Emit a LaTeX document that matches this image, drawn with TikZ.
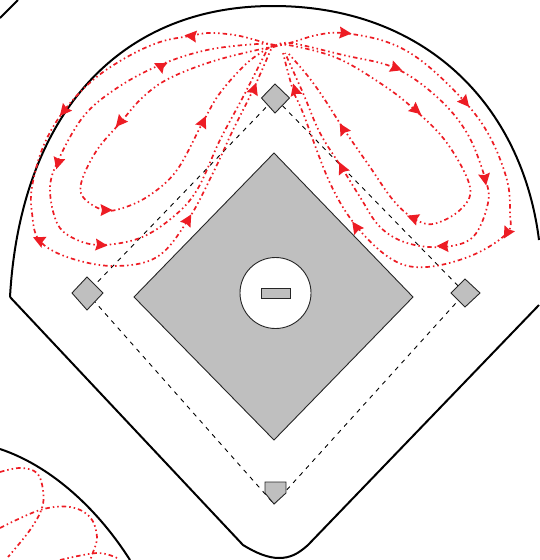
\documentclass[tikz,border=0pt]{standalone}
\definecolor{flowred}{RGB}{237,28,36}
\definecolor{infield}{RGB}{191,191,191}
\tikzset{
 x=1pt,y=-1pt,
 fieldline/.style={draw=black,line width=2pt,line join=round},
 thinshape/.style={draw=black!85,line width=0.9pt,fill=infield,line join=miter},
 basepath/.style={draw=black,line width=0.9pt,dash pattern=on 4.5pt off 5pt},
 flowline/.style={draw=flowred,line width=1.7pt,dash pattern=on 4.5pt off 3pt on 1.5pt off 3pt on 1.5pt off 3pt},
}
\newcommand{\flowtip}[3]{\fill[flowred,shift={(#1,#2)},rotate=-#3] (6.5pt,0pt)--(-5.5pt,6pt)--(-4pt,0pt)--(-5.5pt,-6pt)--cycle;}
\begin{document}
\begin{tikzpicture}
\useasboundingbox (0,0) rectangle (539,560);
% field boundaries
\draw[fieldline] (10,297) .. controls (20,120) and (115,6) .. (273,6) .. controls (425,6) and (522,105) .. (539,240);
\draw[fieldline] (10,297) -- (243,545) .. controls (256,553) and (268,558) .. (279,558) .. controls (290,558) and (298,554) .. (308,545) -- (539,305);
\draw[fieldline] (0,18) -- (18,0);
\draw[fieldline] (0,449) .. controls (48,465) and (95,505) .. (130,560);
% infield
\draw[thinshape] (274,153) -- (413,297) -- (274,440) -- (134,297) -- cycle;
\draw[draw=black!85,line width=0.9pt,fill=white] (275.5,293) circle (35.5);
\draw[thinshape] (261,288) rectangle (290,298);
% base paths
\coordinate (second) at (275,98);
\coordinate (first) at (465,293);
\coordinate (third) at (87,293);
\coordinate (home) at (274,504);
\draw[basepath] (home) -- (first) -- (second) -- (third) -- (home);
% bases
\draw[thinshape] (275,84) -- (289.5,98) -- (275,113) -- (261.5,98) -- cycle;
\draw[thinshape] (465,279) -- (480,293) -- (465,307) -- (451,293) -- cycle;
\draw[thinshape] (87,277) -- (103,293) -- (87,310) -- (72,293) -- cycle;
\draw[thinshape] (265,482) -- (286,482) -- (286,493) -- (274,504) -- (265,493) -- cycle;
% flow lines, left
\draw[flowline] plot[smooth,tension=0.6] coordinates {(275,46) (240,36) (210,33) (190,36) (160,42) (127,57) (93,80) (63,112) (43,147) (32,187) (32,213) (39,240) (67,257) (113,266) (157,257) (188,220) (213,173) (233,130) (253,90) (272,47)};
\draw[flowline] plot[smooth,tension=0.6] coordinates {(275,45) (257,44) (207,50) (160,65) (117,88) (83,117) (57,163) (50,190) (57,223) (73,238) (100,245) (140,238) (173,217) (197,190) (220,140) (243,97) (268,48)};
\draw[flowline] plot[smooth,tension=0.6] coordinates {(275,46) (217,60) (170,78) (143,97) (120,123) (97,150) (82,180) (83,197) (103,210) (123,208) (150,195) (177,170) (203,122) (220,93) (247,63) (270,47)};
% flow lines, right
\draw[flowline] plot[smooth,tension=0.6] coordinates {(273,47) (293,42) (317,35) (343,33) (387,42) (423,62) (465,102) (490,137) (507,180) (510,213) (507,233) (473,255) (427,267) (393,260) (357,227) (330,183) (303,113) (293,90) (283,53)};
\draw[flowline] plot[smooth,tension=0.6] coordinates {(273,47) (290,43) (343,55) (395,68) (437,97) (467,133) (485,178) (488,203) (473,237) (443,247) (407,243) (380,227) (360,197) (342,168) (320,133) (303,93) (285,53)};
\draw[flowline] plot[smooth,tension=0.6] coordinates {(273,47) (288,45) (337,58) (383,85) (415,110) (447,143) (470,187) (460,210) (433,224) (413,218) (393,200) (370,167) (343,128) (323,97) (307,75) (288,53)};
% flow lines, lower left
\draw[flowline] plot[smooth,tension=0.6] coordinates {(0,472) (20,468) (37,473) (43,490) (42,508) (30,530) (8,557)};
\draw[flowline] plot[smooth,tension=0.6] coordinates {(0,528) (40,510) (70,507) (90,517) (97,537) (92,555) (90,560)};
\draw[flowline] plot[smooth,tension=0.6] coordinates {(60,560) (97,553) (117,558)};
% arrow heads
\flowtip{191}{36}{186}
\flowtip{160}{66}{205}
\flowtip{120}{122}{130}
\flowtip{64}{111}{130}
\flowtip{58}{163}{105}
\flowtip{39}{240}{205}
\flowtip{106}{210}{0}
\flowtip{101}{245}{5}
\flowtip{188}{220}{-60}
\flowtip{203}{122}{-65}
\flowtip{254}{89}{-70}
\flowtip{345}{33}{5}
\flowtip{396}{68}{20}
\flowtip{416}{110}{40}
\flowtip{465}{102}{50}
\flowtip{485}{179}{80}
\flowtip{507}{233}{120}
\flowtip{443}{246}{180}
\flowtip{413}{218}{200}
\flowtip{356}{227}{-125}
\flowtip{342}{168}{-115}
\flowtip{343}{129}{-120}
\flowtip{295}{90}{-105}
\end{tikzpicture}
\end{document}
